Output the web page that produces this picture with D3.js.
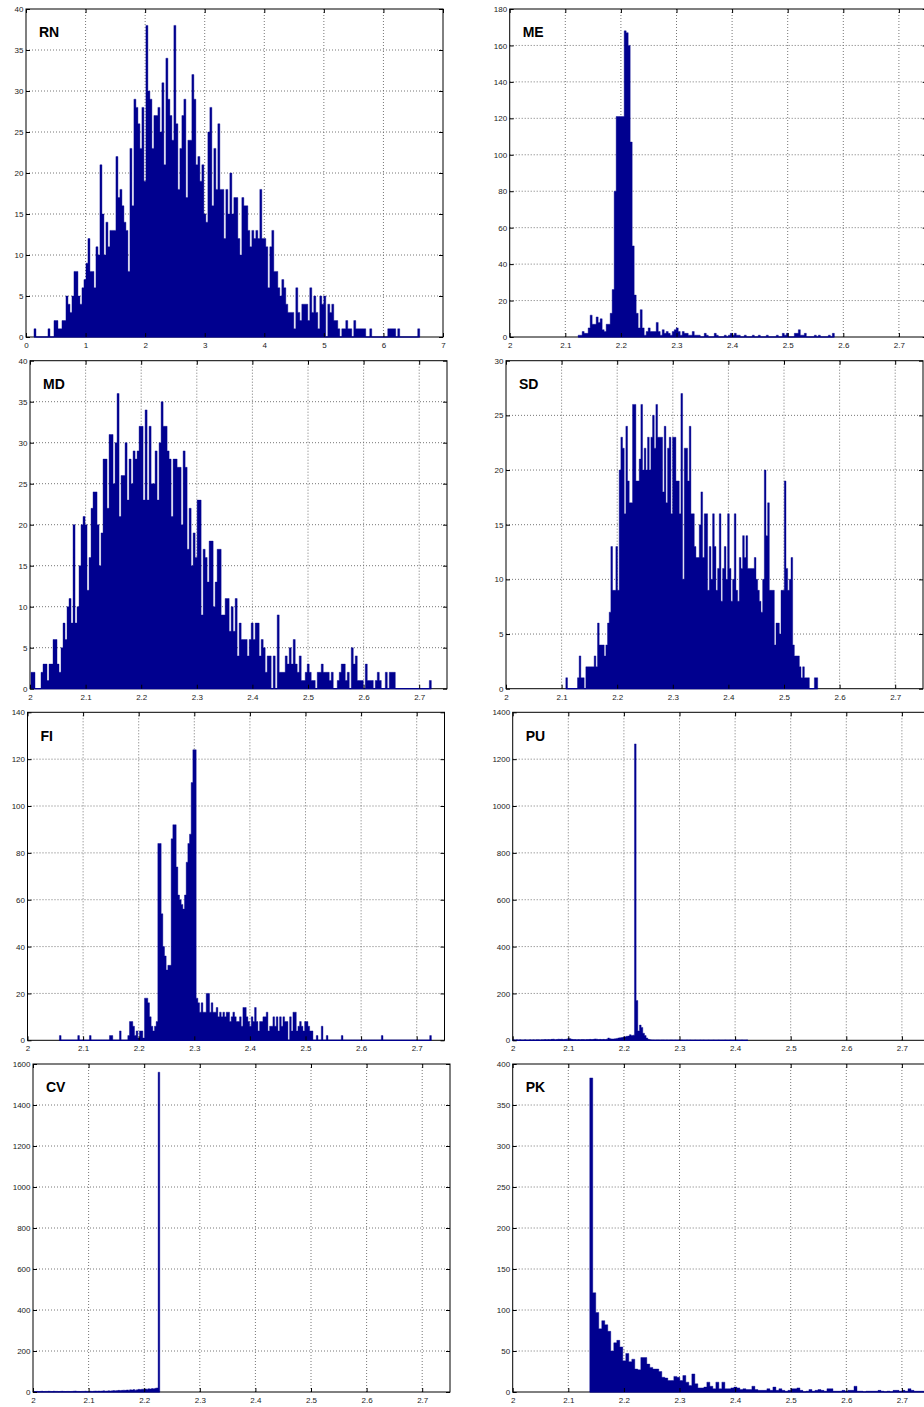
<!DOCTYPE html>
<html>
<head>
<meta charset="utf-8">
<script src="https://cdnjs.cloudflare.com/ajax/libs/d3/7.8.5/d3.min.js"></script>
<style>
    body { margin: 0; background: #fff; }
    svg { display: block; font-family: "Liberation Sans", Arial, Helvetica, sans-serif; }
</style>
</head>
<body>
<div id="container"></div>
<script>
// histogram counts; each panel has a first bin edge and a bin width
var rnStart = 0.134, rnBin = 0.03355;
var rnCounts = [1,0,0,0,0,0,0,1,0,0,
    2,2,1,1,2,2,5,4,3,5,
    8,8,5,4,6,7,9,12,8,8,
    6,11,10,21,15,10,14,11,13,13,
    13,22,17,18,16,14,13,8,23,16,
    29,28,26,23,28,19,38,30,29,23,
    27,27,28,25,31,21,34,29,27,24,
    38,26,18,23,27,29,17,24,24,32,
    29,21,22,19,21,15,14,25,28,16,
    23,18,26,18,18,12,18,15,20,15,
    17,17,12,10,17,16,16,13,11,13,
    12,13,12,18,12,12,11,6,11,13,
    8,8,6,5,7,6,4,3,3,3,
    1,6,3,2,4,4,4,2,6,3,
    5,3,1,5,4,5,0,4,3,4,
    2,2,1,0,1,1,2,1,1,0,
    2,1,1,1,1,1,0,0,1,0,
    0,0,0,0,0,0,0,1,1,1,
    1,0,1,0,0,0,0,0,0,0,
    0,0,1];

var meStart = 2.1231, meBin = 0.0036;
var meCounts = [1,1,3,2,2,5,12,7,7,11,
    8,10,4,3,7,7,13,26,80,121,
    121,121,121,168,167,160,107,50,23,13,
    5,15,5,1,3,5,3,3,3,8,
    3,1,4,2,3,2,1,3,4,5,
    3,1,3,2,2,1,1,3,1,1,
    1,0,0,2,1,0,0,0,2,1,
    0,0,0,1,0,1,2,1,2,1,
    1,0,0,1,0,0,0,1,0,0,
    1,0,0,0,1,0,0,0,0,1,
    0,0,2,1,2,0,0,0,2,2,
    4,1,1,2,0,0,0,0,1,0,
    1,0,0,0,0,1,0,2];

var mdStart = 2.0018, mdBin = 0.0036;
var mdCounts = [2,2,0,0,0,2,3,3,1,3,
    3,6,6,3,2,5,8,6,10,11,
    8,20,8,10,15,20,21,20,12,16,
    22,24,24,20,15,19,28,28,22,31,
    31,25,30,36,21,26,26,30,23,28,
    25,29,28,29,32,32,23,34,23,32,
    25,25,29,23,30,35,32,32,29,28,
    21,28,28,27,27,20,29,27,17,22,
    15,19,16,23,23,9,17,16,13,18,
    18,10,13,17,17,9,9,11,11,7,
    10,7,11,4,8,6,6,6,4,6,
    8,6,8,8,4,6,5,2,4,4,
    0,4,0,9,2,2,2,4,3,5,
    3,6,3,2,4,1,1,2,3,2,
    1,1,0,2,2,3,2,2,2,1,
    2,0,0,1,2,3,3,1,2,0,
    5,3,4,1,1,1,0,3,1,1,
    1,0,1,2,1,0,0,2,0,2,
    2,2,0,0,0,0,0,0,0,0,
    0,0,0,0,0,0,0,0,0,1];

var sdStart = 2.1076, sdBin = 0.003;
var sdCounts = [1,0,0,0,0,0,0,1,3,1,
    1,0,2,2,2,2,2,3,2,6,
    4,4,4,3,4,6,7,13,9,9,
    13,9,20,23,22,16,24,19,17,17,
    26,26,19,19,21,26,20,22,20,23,
    20,23,25,22,26,23,23,23,18,24,
    17,22,23,16,23,23,19,19,16,27,
    10,22,22,19,24,16,16,13,12,12,
    15,18,12,16,16,9,13,10,16,13,
    9,11,16,8,11,13,10,16,11,8,
    10,16,9,8,12,11,14,12,14,11,
    11,11,11,12,10,9,8,7,10,20,
    14,17,9,9,9,4,6,6,5,9,
    9,19,11,9,10,12,4,3,3,3,
    2,1,2,1,1,1,0,0,0,1,1];

var fiStart = 2.0574, fiBin = 0.003;
var fiCounts = [2,0,0,0,0,0,0,0,0,0,
    0,2,0,0,0,0,0,0,2,0,
    0,0,0,0,0,0,0,0,0,0,
    2,2,0,0,0,0,4,0,0,0,
    0,2,8,8,6,2,4,1,4,4,
    1,18,18,16,10,6,4,6,8,84,
    84,54,40,36,30,32,32,86,92,92,
    74,62,60,58,56,62,76,84,88,110,
    124,124,18,16,12,16,12,12,20,20,
    12,16,12,12,14,10,12,10,12,10,
    12,12,8,10,12,10,8,8,10,6,
    14,14,10,8,6,10,8,14,8,4,
    8,8,10,10,12,4,6,6,10,6,
    10,4,10,6,10,8,8,0,10,4,
    12,12,4,6,8,6,4,8,8,6,
    4,4,0,0,2,0,0,6,0,0,
    2,0,0,0,0,0,0,0,0,2,
    0,0,0,0,0,0,0,0,0,0,
    0,0,0,0,0,0,0,0,0,0,
    0,0,0,2,0,0,0,0,0,0,
    0,0,0,0,0,0,0,0,0,0,
    0,0,0,0,0,0,0,0,0,0,
    0,0,2];

var puStart = 2.0, puBin = 0.003;
var puCounts = [2,1,2,1,2,1,1,2,1,1,
    2,1,2,1,2,2,1,2,2,3,
    2,3,2,4,5,2,3,5,4,5,
    3,4,5,8,7,4,3,3,2,3,
    2,3,3,2,3,3,4,3,4,6,
    5,3,4,3,4,3,5,10,7,6,
    6,7,8,10,11,12,14,15,17,18,
    24,20,22,1265,170,40,65,55,30,20,
    10,4,2,1,1,0,1,1,0,1,
    1,0,1,0,1,1,0,1,0,1,
    0,1,0,0,1,0,1,0,0,1,
    0,0,1,0,1,0,0,1,0,0,
    1,0,0,1,0,0,0,1,0,0,
    1,0,0,0,1,0,0,1,0,0,1];

var cvStart = 2.0, cvBin = 0.003;
var cvCounts = [3,2,3,2,3,4,2,3,3,4,
    3,2,4,3,3,2,3,4,3,2,
    3,3,2,3,4,5,3,3,2,3,
    3,4,3,3,4,3,4,5,4,5,
    4,5,6,4,5,6,5,6,7,6,
    7,8,7,8,9,8,10,9,11,10,
    12,9,11,13,12,14,13,15,14,16,
    15,17,16,18,20,1560];

var pkStart = 2.1386, pkBin = 0.0054;
var pkCounts = [383,121,97,77,87,82,74,50,60,63,
    55,38,47,37,40,28,27,42,42,34,
    30,28,28,25,18,17,14,14,19,18,
    14,20,12,8,22,10,5,5,6,12,
    7,4,12,4,12,4,4,5,6,5,
    3,4,3,3,7,3,2,2,2,4,
    2,6,2,4,2,1,2,4,4,5,
    2,0,1,3,1,2,3,2,1,4,
    4,1,1,1,2,1,2,2,7,1,
    1,0,1,1,1,1,2,1,0,1,
    0,2,2,1,2,1,4,2,1,1,
    1,1,1];

// tick values
var xTicksRN = [0, 1, 2, 3, 4, 5, 6, 7];
var xTicksRest = [2, 2.1, 2.2, 2.3, 2.4, 2.5, 2.6, 2.7];
var yTicksRN = [0, 5, 10, 15, 20, 25, 30, 35, 40];
var yTicksME = [0, 20, 40, 60, 80, 100, 120, 140, 160, 180];
var yTicksMD = [0, 5, 10, 15, 20, 25, 30, 35, 40];
var yTicksSD = [0, 5, 10, 15, 20, 25, 30];
var yTicksFI = [0, 20, 40, 60, 80, 100, 120, 140];
var yTicksPU = [0, 200, 400, 600, 800, 1000, 1200, 1400];
var yTicksCV = [0, 200, 400, 600, 800, 1000, 1200, 1400, 1600];
var yTicksPK = [0, 50, 100, 150, 200, 250, 300, 350, 400];

var width = 924, height = 1407;
var pw = 417, ph = 328;
var barColor = "#00008f";

var panels = [
    {name: "RN", start: rnStart, bin: rnBin, counts: rnCounts, xd: [0, 7], xt: xTicksRN, yt: yTicksRN, left: 26, top: 9},
    {name: "ME", start: meStart, bin: meBin, counts: meCounts, xd: [2, 2.75], xt: xTicksRest, yt: yTicksME, left: 509.7, top: 9},
    {name: "MD", start: mdStart, bin: mdBin, counts: mdCounts, xd: [2, 2.75], xt: xTicksRest, yt: yTicksMD, left: 30, top: 360.7},
    {name: "SD", start: sdStart, bin: sdBin, counts: sdCounts, xd: [2, 2.75], xt: xTicksRest, yt: yTicksSD, left: 506, top: 360.7},
    {name: "FI", start: fiStart, bin: fiBin, counts: fiCounts, xd: [2, 2.75], xt: xTicksRest, yt: yTicksFI, left: 27.5, top: 712.3},
    {name: "PU", start: puStart, bin: puBin, counts: puCounts, xd: [2, 2.75], xt: xTicksRest, yt: yTicksPU, left: 512.7, top: 712.3},
    {name: "CV", start: cvStart, bin: cvBin, counts: cvCounts, xd: [2, 2.75], xt: xTicksRest, yt: yTicksCV, left: 33, top: 1064},
    {name: "PK", start: pkStart, bin: pkBin, counts: pkCounts, xd: [2, 2.75], xt: xTicksRest, yt: yTicksPK, left: 512.7, top: 1064}
];

var plain = function (d) { return String(d); };

var svg = d3.select("#container")
    .append("svg")
    .attr("width", width)
    .attr("height", height);

panels.forEach(function (p) {
    var g = svg.append("g")
        .attr("transform", "translate(" + p.left + "," + p.top + ")");

    var x = d3.scaleLinear().domain(p.xd).range([0, pw]);
    var y = d3.scaleLinear().domain([0, p.yt[p.yt.length - 1]]).range([ph, 0]);

    // dotted grid
    g.append("g").selectAll("line")
        .data(p.xt.filter(function (d) { return d > p.xd[0] && d < p.xd[1]; }))
        .enter().append("line")
        .attr("x1", function (d) { return x(d); })
        .attr("x2", function (d) { return x(d); })
        .attr("y1", 0).attr("y2", ph)
        .attr("stroke", "#666").attr("stroke-width", 0.9)
        .attr("stroke-dasharray", "1,2");
    g.append("g").selectAll("line")
        .data(p.yt.slice(1, -1))
        .enter().append("line")
        .attr("x1", 0).attr("x2", pw)
        .attr("y1", function (d) { return y(d); })
        .attr("y2", function (d) { return y(d); })
        .attr("stroke", "#666").attr("stroke-width", 0.9)
        .attr("stroke-dasharray", "1,2");

    g.append("rect")
        .attr("width", pw).attr("height", ph)
        .attr("fill", "none")
        .attr("stroke", "#000")
        .attr("stroke-width", 1);

    // bars as one stepped area
    var pts = p.counts.map(function (c, i) { return [p.start + i * p.bin, c]; });
    pts.push([p.start + p.counts.length * p.bin, p.counts[p.counts.length - 1]]);

    var area = d3.area()
        .curve(d3.curveStepAfter)
        .x(function (d) { return x(d[0]); })
        .y0(ph)
        .y1(function (d) { return y(d[1]); });

    g.append("path")
        .datum(pts)
        .attr("d", area)
        .attr("fill", barColor)
        .attr("stroke", barColor)
        .attr("stroke-width", 0.4);

    g.append("line")
        .attr("x1", x(pts[0][0]))
        .attr("x2", x(pts[pts.length - 1][0]))
        .attr("y1", ph).attr("y2", ph)
        .attr("stroke", barColor)
        .attr("stroke-width", 1.2);

    // axes, ticks pointing inward
    var ax = [
        {a: d3.axisBottom(x).tickPadding(5.5), t: "translate(0," + ph + ")", labels: true, sc: "x"},
        {a: d3.axisTop(x), t: "translate(0,0)", labels: false, sc: "x"},
        {a: d3.axisLeft(y).tickPadding(2.5), t: "translate(0,0)", labels: true, sc: "y"},
        {a: d3.axisRight(y), t: "translate(" + pw + ",0)", labels: false, sc: "y"}
    ];
    ax.forEach(function (o) {
        o.a.tickValues(o.sc == "x" ? p.xt : p.yt)
            .tickSizeInner(-4)
            .tickSizeOuter(0)
            .tickFormat(o.labels ? plain : "");
        var ag = g.append("g").attr("transform", o.t).call(o.a);
        ag.select(".domain").remove();
        ag.selectAll("line").attr("stroke", "#000");
        ag.selectAll("text")
            .attr("font-size", "8px")
            .attr("font-family", "Liberation Sans, Arial, sans-serif")
            .attr("fill", "#222");
    });

    g.append("text")
        .attr("x", 13)
        .attr("y", 28.3)
        .attr("font-size", "14px")
        .attr("font-weight", "bold")
        .attr("fill", "#000")
        .text(p.name);
});
</script>
</body>
</html>
